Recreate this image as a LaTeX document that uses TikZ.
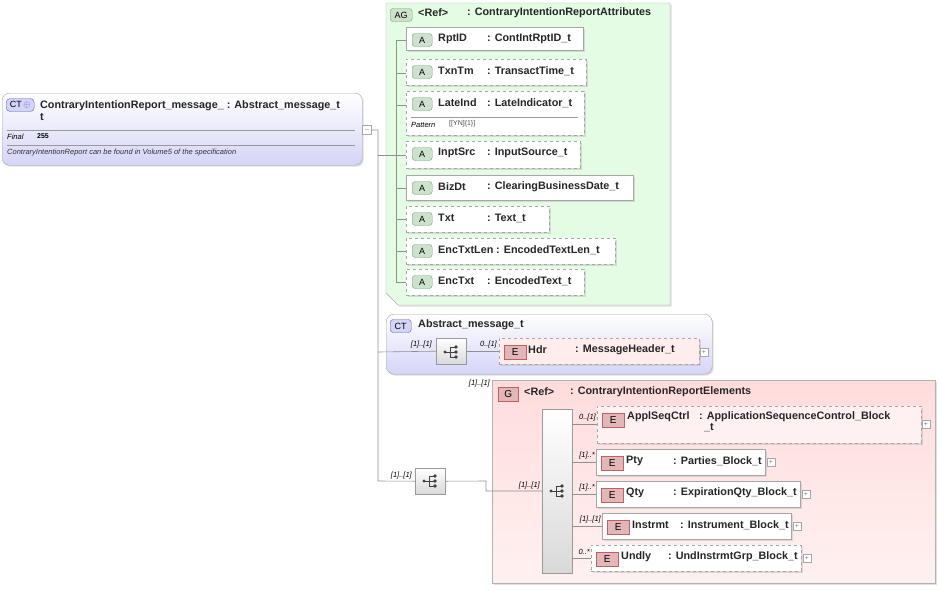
\documentclass[tikz,border=0pt]{standalone}
\usepackage{fontspec}
\setmainfont{Liberation Sans}
\usetikzlibrary{calc,shadows}
\definecolor{grn}{HTML}{E4FBE4}
\definecolor{grnb}{HTML}{6FA86F}
\definecolor{lav}{HTML}{D4D4F8}
\definecolor{lavb}{HTML}{6060B0}
\definecolor{pnk}{HTML}{FFDCDC}
\definecolor{pnkb}{HTML}{C06060}
\definecolor{lnc}{HTML}{909090}
\tikzset{
  x=1pt,y=-1pt,
  lbl/.style={font=\fontsize{10.8}{12}\selectfont\bfseries,inner sep=0,anchor=west,text=black!85},
  card/.style={font=\fontsize{7.5}{8}\selectfont\itshape,inner sep=0,anchor=east},
  box/.style={draw=black!35,fill=white,inner sep=0,anchor=north west,drop shadow={shadow xshift=1.5pt,shadow yshift=-1.5pt,fill=black!25}},
  dbox/.style={box,dashed},
  abadge/.style={draw=grnb,fill=grnb!35,rounded corners=3pt,minimum width=20pt,minimum height=13pt,inner sep=0,font=\fontsize{9}{10}\selectfont,anchor=west},
  ebadge/.style={draw=pnkb,fill=pnkb!45,minimum width=22pt,minimum height=14pt,inner sep=0,font=\fontsize{10}{11}\selectfont,anchor=west},
  seq/.style={draw=black!40,top color=white,bottom color=black!15,inner sep=0,anchor=north west},
  conn/.style={draw=lnc,line width=0.6pt},
  plus/.style={draw=black!35,fill=white,minimum size=8pt,inner sep=0,font=\fontsize{7}{7}\selectfont,text=black!50},
}
\newcommand{\seqicon}[1]{%
  \begin{scope}[shift={(#1)}]
    \fill[black!75] (-7,0) circle (1.6);
    \draw[black!75,line width=0.7pt] (-7,0)--(-2,0) (-2,-5)--(-2,5) (-2,-5)--(4,-5) (-2,5)--(4,5) (-2,0)--(4,0);
    \fill[black!75] (4,-5) circle (1.8) (4,0) circle (1.8) (4,5) circle (1.8);
  \end{scope}}
\newcommand{\attrbox}[9]{%
  \node[#6,minimum width=#4pt,minimum height=#5pt] (#1) at (#2,#3) {};
  \node[abadge] (#1b) at ($(#2,#3)+(6,13)$) {#7};
  \node[lbl] (#1l) at ($(#2,#3)+(32,12)$) {#8};
  \node[lbl] (#1t) at ($(#2,#3)+(81,12)$) {#9};}
\newcommand{\elbox}[9]{%
  \node[#6,minimum width=#4pt,minimum height=#5pt] (#1) at (#2,#3) {};
  \node[ebadge] (#1b) at ($(#2,#3)+(5,14)$) {E};
  \node[lbl] (#1l) at ($(#2,#3)+(30,12)$) {#8};
  \node[lbl] (#1t) at ($(#2,#3)+(#7,12)$) {#9};}
\begin{document}
\begin{tikzpicture}
\useasboundingbox (0,0) rectangle (941,590);
% main CT
\node[draw=black!35,rounded corners=7pt,top color=white,bottom color=lav,minimum width=360pt,minimum height=72pt,inner sep=0,anchor=north west,drop shadow={shadow xshift=1.5pt,shadow yshift=-1.5pt,fill=black!25}] (main) at (2,93) {};
\node[draw=lavb,fill=lav,rounded corners=4pt,minimum width=28pt,minimum height=13pt,inner sep=0,font=\fontsize{9}{10}\selectfont,anchor=west] (mainb) at (6,105) {CT\,\textcolor{lavb}{$\oplus$}};
\node[lbl,anchor=north west,align=left] (mainl) at (40,100) {ContraryIntentionReport\_message\_ : Abstract\_message\_t\\t};
\draw[black!40] (7,130)--(355,130) (7,145)--(355,145);
\node[font=\fontsize{7.5}{8}\selectfont\itshape,inner sep=0,anchor=west] (fin) at (7,137) {Final};
\node[font=\fontsize{7}{8}\selectfont\bfseries,inner sep=0,anchor=west] (finv) at (37,136) {255};
\node[font=\fontsize{7.5}{8}\selectfont\itshape,inner sep=0,anchor=west,text=black!80] (desc) at (7,153) {ContraryIntentionReport can be found in Volume5 of the specification};
\node[plus,minimum size=9pt] (mminus) at (367,130) {--};
\coordinate (trunk) at (378,130);
% AG group
\path[draw=black!30,fill=grn,drop shadow={shadow xshift=1.5pt,shadow yshift=-1.5pt,fill=black!25}] (386,3)--(670,3)--(670,305)--(398,305)--(386,293)--cycle;
\node[abadge,minimum width=22pt] (agb) at (390,15) {AG};
\node[lbl] (agr) at (418,13) {<Ref>};
\node[lbl] (agt) at (467,13) {: ContraryIntentionReportAttributes};
\attrbox{a1}{406}{27}{177}{23}{box}{A}{RptID}{: ContIntRptID\_t}
\attrbox{a2}{406}{59}{180}{26}{dbox}{A}{TxnTm}{: TransactTime\_t}
\attrbox{a3}{406}{91}{178}{44}{dbox}{A}{LateInd}{: LateIndicator\_t}
\draw[black!40] (411,117)--(578,117);
\node[font=\fontsize{7.5}{8}\selectfont\itshape,inner sep=0,anchor=west] (pat) at (411,125) {Pattern};
\node[font=\fontsize{7}{8}\selectfont,inner sep=0,anchor=west,text=black!70] (patv) at (449,124) {[[YN]\{1\}]};
\attrbox{a4}{406}{141}{174}{27}{dbox}{A}{InptSrc}{: InputSource\_t}
\attrbox{a5}{406}{175}{227}{25}{box}{A}{BizDt}{: ClearingBusinessDate\_t}
\attrbox{a6}{406}{206}{143}{26}{dbox}{A}{Txt}{: Text\_t}
\node[lbl] (a7l) at (438,250) {EncTxtLen};
\node[box,dashed,minimum width=209pt,minimum height=26pt] (a7) at (406,238) {};
\node[abadge] (a7b) at (412,251) {A};
\node[lbl] (a7l) at (438,250) {EncTxtLen};
\node[lbl] (a7t) at (496,250) {: EncodedTextLen\_t};
\attrbox{a8}{406}{269}{178}{26}{dbox}{A}{EncTxt}{: EncodedText\_t}
\draw[conn] (396,40)--(396,282);
\foreach \n/\y in {a1/40,a2/73,a3/105,a4/155,a5/188,a6/219,a7/251,a8/282}{\draw[conn] (396,\y)--(\n.west|-0,\y);}
% CT Abstract
\node[draw=black!35,rounded corners=8pt,top color=white,bottom color=lav,minimum width=326pt,minimum height=60pt,inner sep=0,anchor=north west,drop shadow={shadow xshift=1.5pt,shadow yshift=-1.5pt,fill=black!25}] (abs) at (386,314) {};
\node[draw=lavb,fill=lav,rounded corners=3pt,minimum width=21pt,minimum height=13pt,inner sep=0,font=\fontsize{9}{10}\selectfont,anchor=west] (absb) at (390,326) {CT};
\node[lbl] (absl) at (418,325) {Abstract\_message\_t};
\node[seq,minimum width=30pt,minimum height=26pt] (s1) at (436,338) {};
\seqicon{452,352}
\node[dbox,fill=pnk!50,minimum width=200pt,minimum height=26pt] (hdr) at (499,338) {};
\node[ebadge] (hdrb) at (504,352) {E};
\node[lbl] (hdrl) at (528,350) {Hdr};
\node[lbl] (hdrt) at (575,350) {: MessageHeader\_t};
\node[plus] (hdrp) at (704,352) {+};
\node[card] (c1) at (432,345) {[1]..[1]};
\node[card] (c2) at (497,345) {0..[1]};
\draw[conn] (trunk|-0,352)--(s1.west);
\draw[conn] (s1.east)--(hdr.west);
% G group
\node[draw=black!30,top color=pnk,bottom color=pnk!40,minimum width=443pt,minimum height=203pt,inner sep=0,anchor=north west,drop shadow={shadow xshift=1.5pt,shadow yshift=-1.5pt,fill=black!25}] (grp) at (492,380) {};
\node[ebadge,minimum width=20pt] (gb) at (498,394) {G};
\node[lbl] (gr) at (524,392) {<Ref>};
\node[lbl] (gt) at (570,392) {: ContraryIntentionReportElements};
\node[card] (c3) at (490,384) {[1]..[1]};
\node[seq,minimum width=30pt,minimum height=26pt] (s2) at (415,468) {};
\seqicon{431,481}
\node[card] (c4) at (412,476) {[1]..[1]};
\node[seq,minimum width=30pt,minimum height=164pt] (s3) at (542,409) {};
\seqicon{558,491}
\node[card] (c5) at (540,486) {[1]..[1]};
\draw[conn] (s2.east)--(486,481)--(486,491)--(s3.west|-0,491);
\draw[conn] (mminus.east)--(trunk)--(trunk|-0,481)--(s2.west);
\draw[conn] (trunk|-0,155)--(396,155);
% elements
\node[dbox,fill=pnk!40,minimum width=324pt,minimum height=37pt] (e1) at (597,406) {};
\node[ebadge] (e1b) at (602,420) {E};
\node[lbl] (e1l) at (627,417) {ApplSeqCtrl};
\node[lbl,align=left,anchor=north west] (e1t) at (699,411) {: ApplicationSequenceControl\_Block\\[-1pt]\hspace{5pt}\_t};
\node[plus] (e1p) at (926,424) {+};
\elbox{e2}{596}{449}{169}{26}{box}{77}{Pty}{: Parties\_Block\_t}
\elbox{e3}{596}{481}{204}{26}{box}{77}{Qty}{: ExpirationQty\_Block\_t}
\elbox{e4}{602}{513}{189}{26}{box}{78}{Instrmt}{: Instrument\_Block\_t}
\elbox{e5}{591}{545}{210}{26}{dbox}{77}{Undly}{: UndInstrmtGrp\_Block\_t}
\node[plus] (e2p) at (771,462) {+};
\node[plus] (e3p) at (806,494) {+};
\node[plus] (e4p) at (797,526) {+};
\node[plus] (e5p) at (807,558) {+};
\foreach \n/\y/\c in {e1/424/{0..[1]},e2/462/{[1]..*},e3/494/{[1]..*},e4/526/{[1]..[1]},e5/558/{0..*}}{
  \draw[conn] (s3.east|-0,\y)--(\n.west|-0,\y);
  \node[card,anchor=east] at ($(\n.west|-0,\y)+(-1,-6)$) {\c};}
\end{tikzpicture}
\end{document}
